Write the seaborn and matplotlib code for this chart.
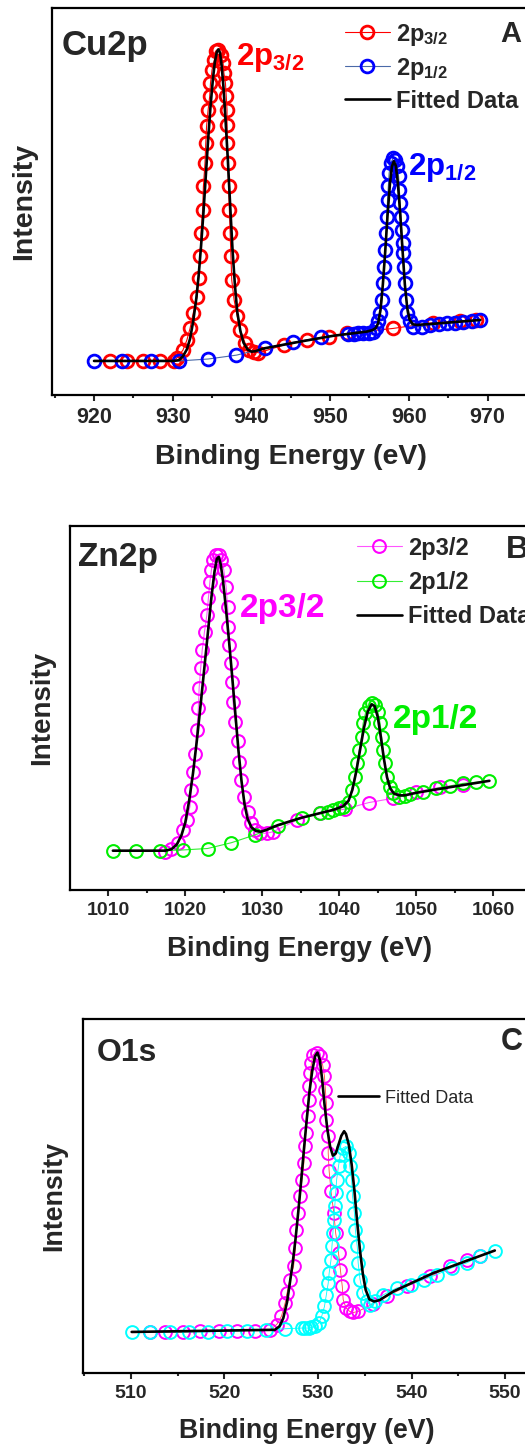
import matplotlib
matplotlib.use("Agg")
import matplotlib.pyplot as plt
from matplotlib.ticker import MultipleLocator
import seaborn as sns

sns.set_style("ticks")
plt.rcParams['font.family'] = ['Liberation Sans', 'DejaVu Sans']
plt.rcParams['mathtext.fontset'] = 'custom'
plt.rcParams['mathtext.rm'] = 'Liberation Sans:bold'
plt.rcParams['mathtext.bf'] = 'Liberation Sans:bold'
plt.rcParams['mathtext.it'] = 'Liberation Sans:bold'

# ---------------- Panel A: Cu2p ----------------
cu_x_32 = [922.0, 924.2, 926.2, 928.4, 930.1, 930.5, 931.3, 931.8, 932.2, 932.6, 933.1, 933.3, 933.5, 933.6,
           933.8, 933.9, 934.1, 934.2, 934.3, 934.5, 934.7, 934.8, 935.0, 935.3, 935.5, 935.8, 936.1, 936.4,
           936.5, 936.7, 936.8, 936.9, 936.9, 936.9, 937.0, 937.1, 937.2, 937.3, 937.4, 937.5, 937.8, 938.2,
           938.6, 939.2, 939.7, 940.3, 940.9, 944.1, 947.0, 949.8, 952.1, 958.0, 963.1, 966.5, 968.5]
cu_y_32 = [8.8, 8.8, 8.8, 8.8, 8.8, 9.5, 11.6, 14.2, 17.2, 21.1, 25.4, 30.2, 35.8, 41.8,
           47.8, 53.9, 59.9, 65.1, 69.4, 73.7, 77.2, 80.6, 84.1, 86.6, 88.8, 89.2, 87.9, 85.8,
           83.2, 80.6, 77.2, 73.7, 69.8, 65.1, 59.9, 53.9, 47.8, 41.8, 35.8, 29.7, 24.6, 20.3,
           16.8, 13.4, 11.6, 11.2, 10.9, 12.9, 14.2, 15.1, 15.9, 17.2, 18.7, 19.1, 19.3]
cu_x_12 = [920.0, 923.6, 927.2, 930.8, 934.5, 938.1, 941.7, 945.3, 948.9, 952.3, 953.0, 953.6, 954.2, 954.9,
           955.4, 955.8, 956.1, 956.4, 956.6, 956.7, 956.9, 957.0, 957.1, 957.2, 957.3, 957.4, 957.5, 957.7,
           958.0, 958.3, 958.5, 958.7, 958.8, 958.9, 959.0, 959.1, 959.2, 959.3, 959.4, 959.5, 959.7, 959.8,
           960.1, 960.5, 961.7, 962.7, 963.8, 964.8, 965.9, 966.9, 968.0, 969.1]
cu_y_12 = [8.8, 8.8, 8.8, 8.8, 9.3, 10.3, 12.1, 13.6, 14.9, 15.7, 15.8, 15.9, 15.9, 16.1,
           16.4, 17.2, 19.0, 21.1, 24.6, 28.9, 33.2, 37.5, 41.8, 46.1, 50.4, 53.9, 57.3, 59.9,
           61.2, 60.8, 59.1, 56.5, 53.0, 49.6, 46.1, 42.7, 39.2, 36.6, 33.2, 28.9, 24.6, 21.1,
           19.0, 17.7, 17.7, 18.1, 18.3, 18.5, 18.7, 18.9, 19.1, 19.4]
cu_fit_x = [920.0, 930.1, 930.8, 931.3, 931.8, 932.2, 932.6, 933.0, 933.3, 933.6, 933.9, 934.2, 934.5, 934.8,
            935.1, 935.35, 935.6, 935.8, 936.0, 936.2, 936.45, 936.7, 937.0, 937.3, 937.6, 937.9, 938.2, 938.6,
            939.0, 939.5, 940.0, 940.5, 941.5, 946.2, 950.4, 954.7, 955.4, 955.8, 956.1, 956.4, 956.7, 957.0,
            957.3, 957.6, 957.85, 958.1, 958.35, 958.6, 958.9, 959.2, 959.5, 959.8, 960.1, 960.5, 961.0, 963.1,
            969.1]
cu_fit_y = [8.8, 8.8, 9.0, 10.0, 11.8, 14.5, 19.0, 25.0, 31.0, 38.5, 47.0, 56.5, 66.0, 74.5,
            81.5, 86.0, 88.6, 89.3, 88.5, 85.5, 79.5, 71.5, 61.0, 49.0, 37.5, 28.5, 21.5, 16.5,
            13.5, 11.8, 11.2, 11.3, 12.0, 13.8, 15.3, 16.4, 16.8, 17.3, 18.5, 22.0, 28.5, 37.0,
            46.5, 54.5, 59.0, 60.4, 59.2, 55.0, 47.0, 37.5, 28.5, 22.5, 19.5, 18.3, 18.1, 18.4,
            19.4]

# ---------------- Panel B: Zn2p ----------------
zn_x_32 = [1017.4, 1018.2, 1019.1, 1019.7, 1020.2, 1020.6, 1020.8, 1021.0, 1021.3, 1021.5, 1021.7, 1021.8,
           1022.0, 1022.2, 1022.5, 1022.8, 1023.0, 1023.2, 1023.4, 1023.6, 1024.0, 1024.4, 1024.7, 1025.0,
           1025.3, 1025.5, 1025.6, 1025.7, 1025.9, 1026.1, 1026.2, 1026.5, 1026.8, 1027.0, 1027.3, 1027.6,
           1028.1, 1028.5, 1029.0, 1029.7, 1030.6, 1031.4, 1034.5, 1037.5, 1040.7, 1043.8, 1047.0, 1050.0,
           1053.1, 1056.1]
zn_y_32 = [10.5, 11.2, 12.8, 16.5, 19.2, 22.9, 27.5, 32.5, 37.5, 44.0, 49.9, 55.4,
           60.9, 65.9, 71.0, 75.5, 80.1, 84.7, 87.9, 90.7, 92.0, 92.0, 90.7, 87.9,
           83.3, 77.8, 72.3, 67.3, 62.3, 57.2, 51.7, 46.2, 40.8, 35.3, 30.2, 25.6,
           21.5, 18.3, 16.5, 15.6, 15.6, 16.0, 19.2, 21.2, 22.2, 24.0, 25.2, 27.0,
           28.2, 28.8]
zn_x_12 = [1010.6, 1013.6, 1016.7, 1019.7, 1022.9, 1026.0, 1029.0, 1032.1, 1035.1, 1037.5, 1038.6, 1039.2,
           1039.9, 1040.5, 1041.2, 1041.6, 1042.0, 1042.3, 1042.6, 1042.9, 1043.1, 1043.4, 1043.8, 1044.2,
           1044.6, 1045.0, 1045.3, 1045.5, 1045.7, 1045.9, 1046.2, 1046.6, 1047.0, 1047.7, 1048.5, 1049.2,
           1050.9, 1052.6, 1054.4, 1056.1, 1057.8, 1059.5]
zn_y_12 = [10.8, 10.8, 10.8, 11.0, 11.4, 13.0, 15.1, 17.6, 19.7, 21.2, 21.5, 22.0,
           22.4, 22.9, 24.3, 27.5, 31.1, 34.8, 38.5, 42.1, 45.8, 48.5, 50.5, 51.3,
           50.8, 49.0, 45.8, 42.1, 38.5, 34.8, 31.1, 28.4, 26.6, 25.6, 25.8, 26.4,
           27.0, 27.9, 28.6, 29.3, 29.6, 30.0]
zn_fit_x = [1010.6, 1017.4, 1018.2, 1018.9, 1019.5, 1020.0, 1020.5, 1021.0, 1021.5, 1022.0, 1022.5, 1023.0,
            1023.4, 1023.8, 1024.1, 1024.35, 1024.6, 1024.9, 1025.3, 1025.7, 1026.1, 1026.5, 1026.9, 1027.3,
            1027.7, 1028.1, 1028.6, 1029.2, 1029.8, 1030.5, 1032.0, 1035.0, 1039.2, 1040.5, 1041.2, 1041.7,
            1042.2, 1042.7, 1043.2, 1043.7, 1044.2, 1044.6, 1045.0, 1045.4, 1045.8, 1046.2, 1046.6, 1047.1,
            1047.8, 1048.5, 1050.0, 1052.2, 1059.5]
zn_fit_y = [10.8, 10.8, 11.2, 12.5, 15.0, 18.5, 24.5, 32.0, 41.0, 51.0, 61.5, 72.0,
            80.5, 87.5, 91.0, 91.5, 89.5, 85.0, 77.0, 68.0, 58.5, 48.5, 38.5, 30.0,
            23.5, 19.5, 17.2, 16.2, 16.0, 16.5, 17.8, 19.8, 22.0, 23.0, 24.5, 27.5,
            32.5, 38.5, 44.5, 49.0, 51.0, 50.5, 47.5, 42.0, 36.0, 31.0, 28.0, 26.5,
            26.0, 26.0, 26.7, 27.5, 30.0]

# ---------------- Panel C: O1s ----------------
o_x_a = [512.1, 513.7, 515.6, 517.4, 519.4, 521.4, 523.3, 524.9, 525.6, 526.1, 526.5, 526.7, 527.0, 527.4,
         527.6, 527.7, 527.9, 528.1, 528.3, 528.5, 528.6, 528.7, 528.9, 529.0, 529.1, 529.2, 529.3, 529.5,
         529.9, 530.2, 530.5, 530.7, 530.8, 530.9, 530.9, 531.1, 531.1, 531.2, 531.4, 531.7, 531.9, 532.2,
         532.4, 532.6, 532.7, 533.0, 533.4, 533.8, 534.3, 535.9, 537.4, 539.5, 542.0, 544.1, 545.9, 547.3]
o_y_a = [11.5, 11.5, 11.5, 11.8, 12.0, 12.0, 12.0, 12.2, 13.7, 16.0, 19.8, 22.6, 26.4, 30.1,
         35.3, 40.5, 45.2, 49.9, 54.6, 59.3, 64.0, 67.8, 72.5, 77.2, 81.0, 84.7, 87.6, 89.9,
         90.4, 89.5, 87.1, 83.8, 80.0, 76.3, 71.6, 66.9, 62.1, 57.0, 51.3, 45.2, 39.5, 33.9,
         29.2, 24.5, 20.7, 18.4, 17.4, 17.1, 17.4, 19.6, 21.7, 24.5, 27.3, 30.1, 32.0, 33.0]
o_x_b = [510.1, 512.1, 514.2, 516.2, 518.3, 520.3, 522.4, 524.5, 526.5, 528.3, 528.6, 529.0, 529.3, 529.7,
         530.1, 530.4, 530.7, 530.9, 531.1, 531.2, 531.4, 531.5, 531.6, 531.7, 531.8, 531.9, 532.0, 532.2,
         532.4, 532.7, 533.0, 533.3, 533.4, 533.6, 533.7, 533.9, 534.0, 534.2, 534.3, 534.5, 534.8, 535.2,
         535.6, 536.1, 537.0, 538.4, 539.9, 541.3, 542.7, 544.3, 545.9, 547.3, 548.9]
o_y_b = [11.6, 11.6, 11.6, 11.6, 11.6, 11.8, 12.0, 12.2, 12.5, 12.7, 12.7, 12.7, 12.9, 13.2,
         14.1, 16.0, 18.8, 22.1, 25.4, 28.2, 32.0, 35.8, 39.5, 43.3, 47.1, 50.8, 54.6, 58.4,
         61.7, 63.6, 64.0, 62.1, 58.4, 54.6, 49.9, 45.2, 40.5, 35.8, 31.1, 26.4, 22.6, 20.2,
         19.3, 20.2, 22.1, 24.0, 25.0, 26.4, 27.8, 29.7, 31.1, 33.0, 34.6]
o_fit_x = [510.1, 525.4, 525.9, 526.3, 526.7, 527.0, 527.3, 527.6, 527.9, 528.2, 528.5, 528.8, 529.1, 529.4,
           529.7, 529.95, 530.2, 530.45, 530.7, 531.0, 531.3, 531.6, 531.9, 532.2, 532.5, 532.8, 533.0, 533.3,
           533.6, 533.9, 534.2, 534.5, 534.8, 535.1, 535.5, 536.0, 536.6, 538.1, 542.3, 548.9]
o_fit_y = [11.6, 12.2, 13.2, 15.5, 20.0, 25.4, 31.0, 37.7, 45.5, 54.0, 63.0, 71.5, 79.5, 85.5,
           89.5, 90.5, 88.5, 83.0, 76.0, 69.0, 64.0, 61.4, 62.0, 64.5, 67.0, 68.3, 67.5, 64.5,
           59.0, 51.5, 42.5, 34.5, 28.0, 23.5, 20.8, 20.2, 20.6, 23.1, 28.2, 34.6]

xticks_A = [920, 930, 940, 950, 960, 970]
xticks_B = [1010, 1020, 1030, 1040, 1050, 1060]
xticks_C = [510, 520, 530, 540, 550]

fig = plt.figure(figsize=(5.25, 14.45), dpi=100)
axA = fig.add_axes([52/525, 1050/1445, 478/525, 387/1445])
axB = fig.add_axes([70/525, 555/1445, 460/525, 364/1445])
axC = fig.add_axes([83/525, 72/1445, 447/525, 354/1445])


def series(ax, x, y, color, lcolor, ms, mew, lw, label=None):
    sns.lineplot(x=x, y=y, ax=ax, sort=False, estimator=None, color=lcolor, lw=lw,
                 marker='o', markersize=ms, markerfacecolor='none', markeredgecolor=color,
                 markeredgewidth=mew, label=label, legend=False)


def fit(ax, x, y, label=None):
    sns.lineplot(x=x, y=y, ax=ax, sort=False, estimator=None, color='black', lw=1.9,
                 label=label, legend=False)


def style(ax, xlim, ticks, tfs, lfs, xl_y, yl_x):
    ax.set_xlim(*xlim)
    ax.set_ylim(0, 100)
    ax.set_xticks(ticks)
    ax.xaxis.set_minor_locator(MultipleLocator(5))
    ax.set_yticks([])
    ax.tick_params(axis='x', which='major', direction='out', length=4.5, width=1.5,
                   pad=4, labelsize=tfs)
    ax.tick_params(axis='x', which='minor', direction='out', length=2.5, width=1.5)
    for lab in ax.get_xticklabels():
        lab.set_fontweight('bold')
    for s in ['left', 'bottom', 'top', 'right']:
        ax.spines[s].set_linewidth(1.6)
        ax.spines[s].set_color('black')
    ax.set_xlabel('Binding Energy (eV)', fontsize=lfs, fontweight='bold')
    ax.set_ylabel('Intensity', fontsize=lfs, fontweight='bold')
    ax.xaxis.set_label_coords(0.5, xl_y)
    ax.yaxis.set_label_coords(yl_x, 0.5)
    ax.set_facecolor('white')


# Panel A
series(axA, cu_x_32, cu_y_32, '#ff0000', '#ff0000', 9.2, 2.0, 0.8, r'2p$_{3/2}$')
series(axA, cu_x_12, cu_y_12, '#0000ff', '#4a6aa8', 9.2, 2.0, 0.8, r'2p$_{1/2}$')
fit(axA, cu_fit_x, cu_fit_y, 'Fitted Data')
style(axA, (914.66, 975.40), xticks_A, 15.5, 20.5, -0.127, -0.031)
axA.text(915.9, 87.9, 'Cu2p', fontsize=25, fontweight='bold', va='baseline')
axA.text(938.0, 85.3, r'2p$_{3/2}$', fontsize=22.5, fontweight='bold', color='#ff0000', va='baseline')
axA.text(959.9, 56.8, r'2p$_{1/2}$', fontsize=22.5, fontweight='bold', color='#0000ff', va='baseline')
axA.text(971.6, 91.2, 'A', fontsize=21, fontweight='bold', va='baseline')
h, l = axA.get_legend_handles_labels()
axA.legend(h, l, loc='upper left', bbox_to_anchor=(0.613, 0.965), frameon=False, borderpad=0,
           borderaxespad=0, handlelength=1.9, handletextpad=0.25, labelspacing=0.34,
           prop={'size': 17, 'weight': 'bold'})

# Panel B
series(axB, zn_x_32, zn_y_32, '#ff00ff', '#ff55ff', 9.2, 1.5, 0.8, '2p3/2')
series(axB, zn_x_12, zn_y_12, '#00ee00', '#33ee33', 9.2, 1.5, 0.8, '2p1/2')
fit(axB, zn_fit_x, zn_fit_y, 'Fitted Data')
style(axB, (1005.03, 1064.77), xticks_B, 14, 20, -0.126, -0.033)
axB.text(1006.1, 89.0, 'Zn2p', fontsize=24, fontweight='bold', va='baseline')
axB.text(1027.1, 75.0, '2p3/2', fontsize=24, fontweight='bold', color='#ff00ff', va='baseline')
axB.text(1047.0, 44.5, '2p1/2', fontsize=24, fontweight='bold', color='#00ee00', va='baseline')
axB.text(1061.6, 91.2, 'B', fontsize=23, fontweight='bold', va='baseline')
h, l = axB.get_legend_handles_labels()
axB.legend(h, l, loc='upper left', bbox_to_anchor=(0.624, 0.971), frameon=False, borderpad=0,
           borderaxespad=0, handlelength=1.9, handletextpad=0.25, labelspacing=0.48,
           prop={'size': 17, 'weight': 'bold'})

# Panel C
series(axC, o_x_a, o_y_a, '#ff00ff', '#ff4444', 9.2, 1.4, 0.6)
series(axC, o_x_b, o_y_b, '#00ffff', '#00ffff', 9.2, 1.4, 0.6)
fit(axC, o_fit_x, o_fit_y, 'Fitted Data')
style(axC, (504.90, 552.66), xticks_C, 14, 19.3, -0.127, -0.036)
axC.text(506.4, 88.1, 'O1s', fontsize=23, fontweight='bold', va='baseline')
axC.text(549.5, 91.2, 'C', fontsize=22, fontweight='bold', va='baseline')
h, l = axC.get_legend_handles_labels()
axC.legend(h, l, loc='upper left', bbox_to_anchor=(0.570, 0.80), frameon=False, borderpad=0,
           borderaxespad=0, handlelength=2.3, handletextpad=0.33,
           prop={'size': 13})

fig.savefig('out.png', dpi=100)
